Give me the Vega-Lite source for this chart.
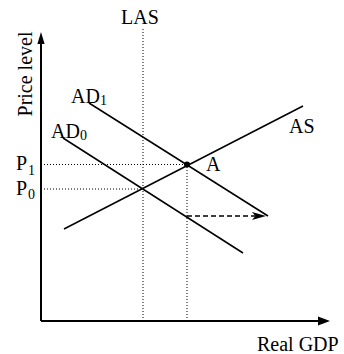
{
  "$schema": "https://vega.github.io/schema/vega-lite/v6.json",
  "width": 344,
  "height": 354,
  "padding": 0,
  "autosize": {"type": "none"},
  "background": "white",
  "config": {"view": {"stroke": null}},
  "datasets": {
    "solid": [
      {"series": "AD0", "x1": 63, "y1": 216, "x2": 243, "y2": 101},
      {"series": "AD1", "x1": 89, "y1": 251, "x2": 268, "y2": 138},
      {"series": "AS", "x1": 64, "y1": 125, "x2": 303, "y2": 248}
    ],
    "axes": [
      {"series": "yaxis", "x1": 41, "y1": 33, "x2": 41, "y2": 318},
      {"series": "xaxis", "x1": 41, "y1": 33, "x2": 320, "y2": 33}
    ],
    "dotted": [
      {"series": "LAS", "x1": 143, "y1": 33, "x2": 143, "y2": 327},
      {"series": "Q1", "x1": 187, "y1": 33, "x2": 187, "y2": 189.5},
      {"series": "P1", "x1": 41, "y1": 189.5, "x2": 187, "y2": 189.5},
      {"series": "P0", "x1": 41, "y1": 165, "x2": 143, "y2": 165}
    ],
    "dashed": [
      {"series": "shift", "x1": 187, "y1": 138, "x2": 255, "y2": 138}
    ],
    "heads": [
      {"kind": "up", "x": 41, "y": 316},
      {"kind": "right", "x": 324, "y": 33},
      {"kind": "notch", "x": 259, "y": 138}
    ],
    "dots": [
      {"name": "A", "x": 187, "y": 189.5}
    ],
    "labels": [
      {"label": "LAS", "x": 121, "y": 330},
      {"label": "AS", "x": 289, "y": 221},
      {"label": "A", "x": 206, "y": 183},
      {"label": "AD", "x": 71, "y": 251},
      {"label": "AD", "x": 51, "y": 216},
      {"label": "P", "x": 16, "y": 184},
      {"label": "P", "x": 16, "y": 159},
      {"label": "Real GDP", "x": 257, "y": 3}
    ],
    "subs": [
      {"label": "1", "x": 100, "y": 249},
      {"label": "0", "x": 80, "y": 214},
      {"label": "1", "x": 28, "y": 179},
      {"label": "0", "x": 28, "y": 155}
    ],
    "ylabel": [
      {"label": "Price level", "x": 32, "y": 280}
    ]
  },
  "encoding": {
    "x": {"field": "x1", "type": "quantitative", "scale": {"domain": [0, 344], "nice": false, "zero": false}, "axis": null},
    "y": {"field": "y1", "type": "quantitative", "scale": {"domain": [0, 354], "nice": false, "zero": false}, "axis": null}
  },
  "layer": [
    {
      "data": {"name": "dotted"},
      "mark": {"type": "rule", "color": "black", "strokeWidth": 1, "strokeDash": [1, 2]},
      "encoding": {"x2": {"field": "x2"}, "y2": {"field": "y2"}}
    },
    {
      "data": {"name": "dashed"},
      "mark": {"type": "rule", "color": "black", "strokeWidth": 1.5, "strokeDash": [5, 3]},
      "encoding": {"x2": {"field": "x2"}, "y2": {"field": "y2"}}
    },
    {
      "data": {"name": "solid"},
      "mark": {"type": "rule", "color": "black", "strokeWidth": 1.5},
      "encoding": {"x2": {"field": "x2"}, "y2": {"field": "y2"}}
    },
    {
      "data": {"name": "axes"},
      "mark": {"type": "rule", "color": "black", "strokeWidth": 2},
      "encoding": {"x2": {"field": "x2"}, "y2": {"field": "y2"}}
    },
    {
      "data": {"name": "heads"},
      "mark": {"type": "point", "filled": true, "color": "black", "opacity": 1, "size": 144, "strokeWidth": 0},
      "encoding": {
        "x": {"field": "x", "type": "quantitative"},
        "y": {"field": "y", "type": "quantitative"},
        "shape": {
          "field": "kind",
          "type": "nominal",
          "legend": null,
          "scale": {
            "domain": ["up", "right", "notch"],
            "range": ["M0,-1L0.6,1L-0.6,1Z", "M1,0L-1,-0.75L-1,0.75Z", "M1.17,0L-1.17,-0.67L-0.6,0L-1.17,0.67Z"]
          }
        }
      }
    },
    {
      "data": {"name": "dots"},
      "mark": {"type": "point", "shape": "circle", "filled": true, "color": "black", "opacity": 1, "size": 36},
      "encoding": {
        "x": {"field": "x", "type": "quantitative"},
        "y": {"field": "y", "type": "quantitative"}
      }
    },
    {
      "data": {"name": "labels"},
      "mark": {"type": "text", "font": "Liberation Serif", "fontSize": 20, "color": "black", "align": "left", "baseline": "alphabetic"},
      "encoding": {
        "x": {"field": "x", "type": "quantitative"},
        "y": {"field": "y", "type": "quantitative"},
        "text": {"field": "label"}
      }
    },
    {
      "data": {"name": "subs"},
      "mark": {"type": "text", "font": "Liberation Serif", "fontSize": 14, "color": "black", "align": "left", "baseline": "alphabetic"},
      "encoding": {
        "x": {"field": "x", "type": "quantitative"},
        "y": {"field": "y", "type": "quantitative"},
        "text": {"field": "label"}
      }
    },
    {
      "data": {"name": "ylabel"},
      "mark": {"type": "text", "font": "Liberation Serif", "fontSize": 20, "color": "black", "align": "center", "baseline": "alphabetic", "angle": 270},
      "encoding": {
        "x": {"field": "x", "type": "quantitative"},
        "y": {"field": "y", "type": "quantitative"},
        "text": {"field": "label"}
      }
    }
  ]
}
